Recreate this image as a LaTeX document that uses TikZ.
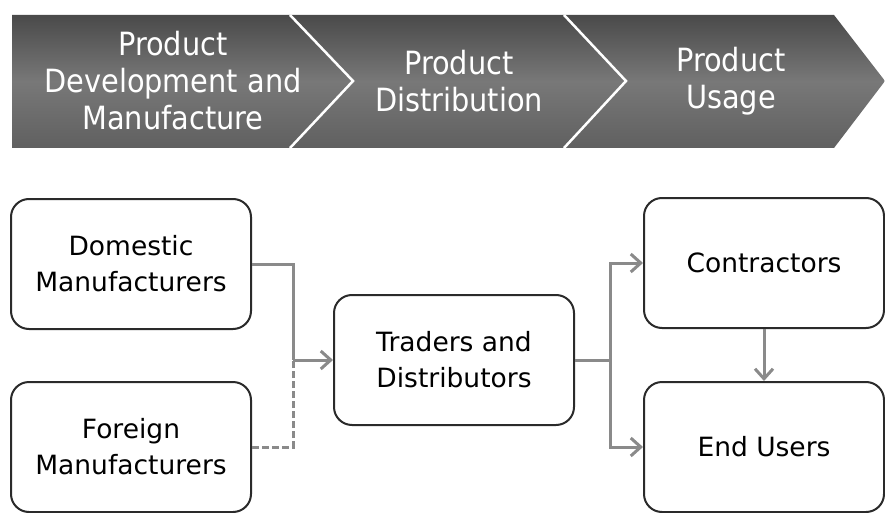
\documentclass[tikz,border=0pt]{standalone}
\usepackage{fontspec}
\setmainfont{DejaVu Sans}
\newfontfamily\bannerfont{DejaVu Sans Condensed}
\usetikzlibrary{arrows.meta}
\definecolor{bartop}{HTML}{4A4A4A}
\definecolor{barmid}{HTML}{787878}
\definecolor{barbot}{HTML}{606060}
\definecolor{boxline}{HTML}{2A2A2A}
\definecolor{linkgray}{HTML}{8A8A8A}
\begin{document}
\begin{tikzpicture}[x=1pt,y=-1pt,
  stage/.style={text=white, align=center, font=\bannerfont\fontsize{32}{37}\selectfont},
  entity/.style={draw=boxline, line width=2pt, rounded corners=18pt, fill=white,
    minimum width=240pt, minimum height=130pt, align=center,
    font=\fontsize{26.5}{36}\selectfont},
  conn/.style={draw=linkgray, line width=3pt},
  tip/.style={-{Straight Barb[length=10pt,width=18pt,line width=3pt]}}]
\useasboundingbox (0,0) rectangle (885,513);

% value chain banner
\shade[top color=bartop, bottom color=barbot, middle color=barmid]
  (12,15) -- (834,15) -- (885,81) -- (834,148) -- (12,148) -- cycle;
\draw[white, line width=2.5pt, line join=miter] (290,15) -- (353,81) -- (290,148);
\draw[white, line width=2.5pt, line join=miter] (564,15) -- (626,81) -- (564,148);
\node[stage] (s1) at (173,81) {Product\\Development and\\Manufacture};
\node[stage] (s2) at (459,81) {Product\\Distribution};
\node[stage] (s3) at (731,81) {Product\\Usage};

% actors
\node[entity] (dom) at (131,264) {Domestic\\Manufacturers};
\node[entity] (for) at (131,447) {Foreign\\Manufacturers};
\node[entity] (tr)  at (454,360) {Traders and\\Distributors};
\node[entity] (con) at (764,263) {Contractors};
\node[entity] (end) at (764,447) {End Users};

% flows
\coordinate (ja) at (293,360);
\coordinate (jb) at (610,360);
\draw[conn] (dom.east) -| (ja);
\draw[conn, dash pattern=on 7pt off 3pt] (for.east) -| (ja);
\draw[conn, tip] (ja) -- (tr.west);
\draw[conn] (tr.east) -- (jb);
\draw[conn, tip] (jb) |- (con.west);
\draw[conn, tip] (jb) |- (end.west);
\draw[conn, tip] (con.south) -- (end.north);
\end{tikzpicture}
\end{document}
